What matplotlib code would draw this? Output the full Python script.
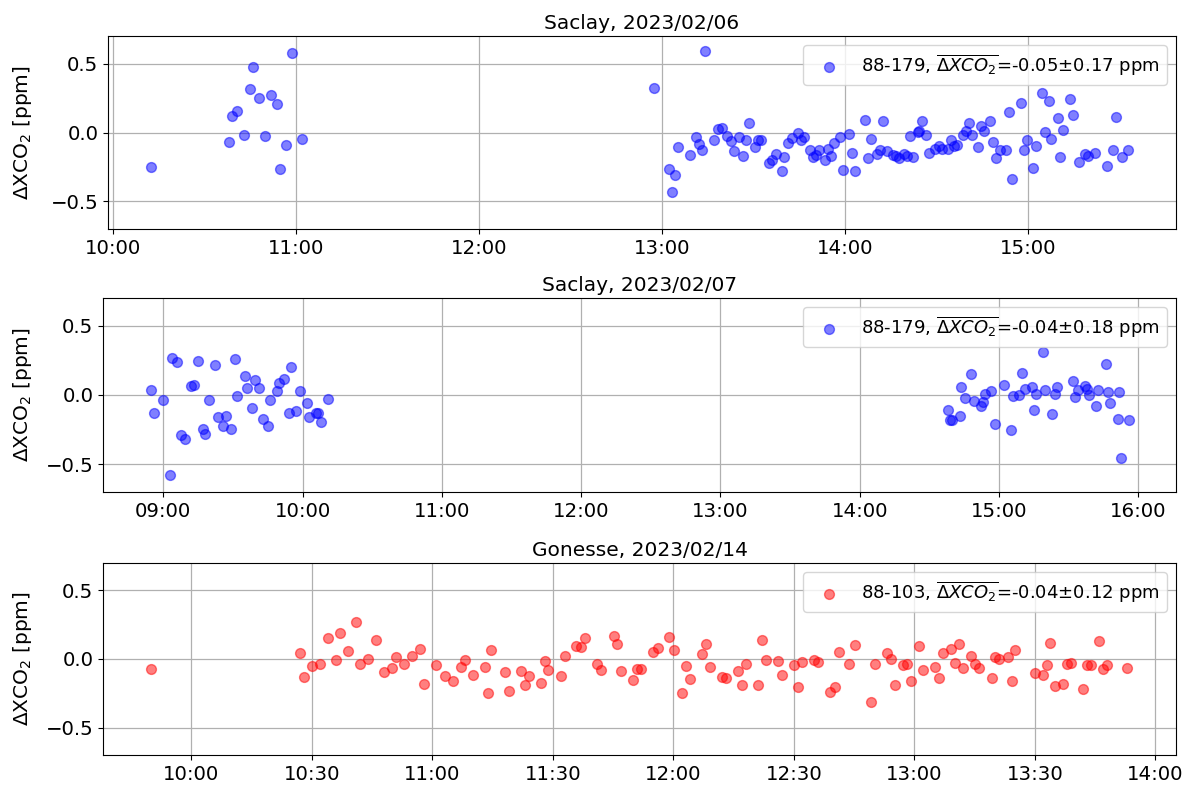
import matplotlib
matplotlib.use("Agg")
import matplotlib.pyplot as plt
import matplotlib.dates as mdates
import pandas as pd

# ---------------- data (time in decimal hours, dXCO2 in ppm) ----------------
saclay_0206_hours = [
    10.208, 10.978, 10.763, 10.747, 10.798, 10.862, 10.896, 10.679, 10.648, 10.714,
    10.829, 10.632, 10.945, 11.033, 10.911,
    12.956, 13.237, 13.038, 13.073, 13.055, 13.089, 13.153, 13.187, 13.204, 13.220,
    13.286, 13.304, 13.326, 13.357, 13.375, 13.392, 13.422, 13.441, 13.457, 13.474,
    13.506, 13.523, 13.541, 13.585, 13.603, 13.621, 13.654, 13.668, 13.690, 13.709,
    13.743, 13.760, 13.776, 13.809, 13.823, 13.843, 13.860, 13.891, 13.909, 13.925,
    13.942, 13.973, 13.989, 14.023, 14.040, 14.056, 14.111, 14.126, 14.144, 14.175,
    14.191, 14.209, 14.228, 14.261, 14.277, 14.293, 14.324, 14.340, 14.373, 14.357,
    14.397, 14.402, 14.422, 14.443, 14.461, 14.492, 14.512, 14.528, 14.561, 14.577,
    14.596, 14.614, 14.643, 14.661, 14.678, 14.696, 14.727, 14.741, 14.760, 14.792,
    14.810, 14.827, 14.847, 14.881, 14.898, 14.914, 14.963, 14.978, 14.995, 15.029,
    15.044, 15.078, 15.095, 15.113, 15.127, 15.162, 15.176, 15.193, 15.231, 15.248,
    15.280, 15.313, 15.330, 15.366, 15.430, 15.462, 15.479, 15.514, 15.545,
]
saclay_0206_dxco2 = [
    -0.25, 0.58, 0.477, 0.314, 0.248, 0.27, 0.204, 0.153, 0.117, -0.015,
    -0.022, -0.068, -0.088, -0.044, -0.265,
    0.323, 0.594, -0.263, -0.307, -0.433, -0.102, -0.16, -0.032, -0.08, -0.124,
    -0.056, 0.022, 0.036, -0.022, -0.061, -0.131, -0.034, -0.168, -0.058, 0.066,
    -0.105, -0.051, -0.051, -0.222, -0.197, -0.153, -0.277, -0.18, -0.075, -0.039,
    -0.002, -0.051, -0.032, -0.124, -0.175, -0.16, -0.124, -0.197, -0.119, -0.168,
    -0.075, -0.036, -0.27, -0.012, -0.148, -0.277, 0.09, -0.182, -0.044, -0.158,
    -0.124, 0.08, -0.136, -0.16, -0.173, -0.188, -0.153, -0.168, -0.177, -0.027,
    0.005, 0.01, 0.083, -0.015, -0.148, -0.119, -0.095, -0.119, -0.119, -0.056,
    -0.1, -0.093, -0.017, 0.01, 0.066, -0.015, -0.102, 0.049, 0.01, 0.08,
    -0.071, -0.182, -0.129, -0.124, 0.146, -0.338, 0.217, -0.124, -0.051, -0.255,
    -0.095, 0.287, 0.002, 0.229, -0.044, 0.102, -0.175, 0.017, 0.243, 0.124,
    -0.214, -0.153, -0.168, -0.148, -0.241, -0.124, 0.109, -0.175, -0.129,
]

saclay_0207_hours = [
    8.912, 8.933, 9.000, 9.062, 9.101, 9.048, 9.127, 9.154, 9.201, 9.220,
    9.251, 9.283, 9.297, 9.330, 9.369, 9.395, 9.448, 9.431, 9.484, 9.512,
    9.531, 9.584, 9.599, 9.634, 9.661, 9.689, 9.713, 9.752, 9.766, 9.816,
    9.831, 9.866, 9.902, 9.917, 9.950, 9.981, 10.034, 10.048, 10.096, 10.113,
    10.134, 10.185,
    14.632, 14.648, 14.665, 14.720, 14.730, 14.754, 14.802, 14.821, 14.869, 14.883,
    14.902, 14.945, 14.971, 15.036, 15.086, 15.100, 15.146, 15.165, 15.184, 15.237,
    15.251, 15.263, 15.319, 15.330, 15.383, 15.402, 15.416, 15.531, 15.548, 15.570,
    15.617, 15.635, 15.649, 15.699, 15.714, 15.766, 15.785, 15.800, 15.852, 15.864,
    15.879, 15.931,
]
saclay_0207_dxco2 = [
    0.038, -0.13, -0.034, 0.266, 0.237, -0.575, -0.288, -0.321, 0.063, 0.072,
    0.244, -0.246, -0.283, -0.034, 0.22, -0.159, -0.15, -0.222, -0.244, 0.261,
    -0.01, 0.14, 0.053, -0.092, 0.106, 0.053, -0.174, -0.222, -0.034, 0.027,
    0.085, 0.118, -0.13, 0.205, -0.116, 0.031, -0.058, -0.157, -0.13, -0.13,
    -0.196, -0.027,
    -0.106, -0.179, -0.179, -0.155, 0.056, -0.022, 0.15, -0.041, -0.077, -0.053,
    0.005, 0.031, -0.208, 0.075, -0.251, -0.005, 0.0, 0.157, 0.043, 0.056,
    -0.106, 0.007, 0.309, 0.036, -0.135, 0.005, 0.056, 0.101, -0.012, 0.038,
    0.067, 0.043, 0.0, -0.082, 0.038, 0.227, 0.024, -0.056, -0.174, 0.02,
    -0.457, -0.181,
]

gonesse_0214_hours = [
    9.831,
    10.449, 10.467, 10.499, 10.532, 10.567, 10.600, 10.616, 10.650, 10.683, 10.699,
    10.734, 10.766, 10.799, 10.834, 10.850, 10.882, 10.915, 10.950, 10.966, 11.017,
    11.051, 11.084, 11.117, 11.135, 11.168, 11.217, 11.230, 11.245,
    11.301, 11.318, 11.366, 11.384, 11.400, 11.450, 11.467, 11.482, 11.535, 11.551,
    11.598, 11.615, 11.634, 11.682, 11.702, 11.752, 11.768, 11.785, 11.833, 11.850,
    11.868, 11.917, 11.935, 11.984, 12.002, 12.035, 12.051, 12.068, 12.118, 12.134,
    12.151, 12.201, 12.217, 12.267, 12.285, 12.300, 12.352, 12.368, 12.385, 12.436,
    12.451, 12.502, 12.518, 12.535, 12.585, 12.602, 12.652, 12.669, 12.686, 12.730,
    12.754, 12.819, 12.836, 12.885, 12.902, 12.920, 12.952, 12.970, 12.985, 13.020,
    13.036, 13.086, 13.103, 13.119, 13.152, 13.170, 13.187, 13.203, 13.236, 13.253,
    13.270, 13.321, 13.336, 13.353, 13.387, 13.404, 13.418, 13.500, 13.533, 13.550,
    13.565, 13.582, 13.617, 13.632, 13.650, 13.700, 13.716, 13.733, 13.767, 13.783,
    13.800, 13.883,
]
gonesse_0214_dxco2 = [
    -0.074,
    0.041, -0.132, -0.053, -0.034, 0.156, -0.01, 0.187, 0.058, 0.273, -0.038,
    -0.002, 0.142, -0.098, -0.067, 0.017, -0.038, 0.022, 0.072, -0.182, -0.045,
    -0.122, -0.16, -0.06, -0.01, -0.117, -0.06, -0.25, 0.065,
    -0.098, -0.235, -0.089, -0.19, -0.125, -0.175, -0.017, -0.082, -0.125, 0.019,
    0.096, 0.089, 0.156, -0.034, -0.082, 0.17, 0.106, -0.089, -0.153, -0.07,
    -0.07, 0.048, 0.077, 0.163, 0.062, -0.247, -0.053, -0.146, 0.034, 0.106,
    -0.06, -0.132, -0.139, -0.089, -0.19, -0.038, -0.19, 0.137, -0.01, -0.017,
    -0.117, -0.045, -0.204, -0.024, -0.007, -0.024, -0.24, -0.204, 0.05, -0.038,
    0.101, -0.314, -0.038, 0.041, -0.002, -0.19, -0.045, -0.034, -0.16, 0.098,
    -0.082, -0.06, -0.139, 0.041, 0.072, -0.031, 0.113, -0.067, 0.022, -0.038,
    -0.067, -0.139, 0.012, -0.002, 0.017, -0.16, 0.065, -0.103, -0.117, -0.045,
    0.115, -0.196, -0.182, -0.038, -0.031, -0.218, -0.045, -0.045, 0.132, -0.074,
    -0.045, -0.067,
]

panel_titles = ["Saclay, 2023/02/06", "Saclay, 2023/02/07", "Gonesse, 2023/02/14"]
panel_dates = ["2023-02-06", "2023-02-07", "2023-02-14"]
panel_labels = [
    r"88-179, $\overline{\Delta XCO_2}$=-0.05$\pm$0.17 ppm",
    r"88-179, $\overline{\Delta XCO_2}$=-0.04$\pm$0.18 ppm",
    r"88-103, $\overline{\Delta XCO_2}$=-0.04$\pm$0.12 ppm",
]
panel_colors = ["blue", "blue", "red"]
panel_xlims = [("09:58:20", "15:48:30"), ("08:34:00", "16:16:15"), ("09:38:00", "14:05:10")]

hours_list = [saclay_0206_hours, saclay_0207_hours, gonesse_0214_hours]
vals_list = [saclay_0206_dxco2, saclay_0207_dxco2, gonesse_0214_dxco2]

# ---------------- figure ----------------
W, H = 1188, 785
fig = plt.figure(figsize=(W / 100, H / 100), dpi=100)

boxes_px = [(108, 36, 1176, 229), (103, 298, 1176, 492), (103, 563, 1176, 755)]

for i in range(3):
    l, t, r, b = boxes_px[i]
    ax = fig.add_axes([l / W, 1 - b / H, (r - l) / W, (b - t) / H])
    base = pd.Timestamp(panel_dates[i])
    times = [base + pd.Timedelta(hours=h) for h in hours_list[i]]
    ax.scatter(times, vals_list[i], s=50, color=panel_colors[i], alpha=0.5,
               label=panel_labels[i], zorder=3)
    ax.set_ylim(-0.7, 0.7)
    ax.set_yticks([-0.5, 0.0, 0.5])
    x0 = pd.Timestamp(panel_dates[i] + " " + panel_xlims[i][0])
    x1 = pd.Timestamp(panel_dates[i] + " " + panel_xlims[i][1])
    ax.set_xlim(x0, x1)
    if i < 2:
        ax.xaxis.set_major_locator(mdates.HourLocator())
    else:
        ax.xaxis.set_major_locator(mdates.MinuteLocator(byminute=[0, 30]))
    ax.xaxis.set_major_formatter(mdates.DateFormatter("%H:%M"))
    ax.grid(True, color="#b0b0b0", linewidth=0.9)
    ax.set_axisbelow(True)
    ax.tick_params(labelsize=14.2)
    ax.set_ylabel(r"$\Delta$XCO$_2$ [ppm]", fontsize=14.5)
    ax.yaxis.set_label_coords((34 - l) / (r - l), 0.5)
    ax.set_title(panel_titles[i], fontsize=14.5, pad=5)
    ax.legend(loc="upper right", fontsize=13, framealpha=0.8)

fig.savefig("out.png", dpi=100)
